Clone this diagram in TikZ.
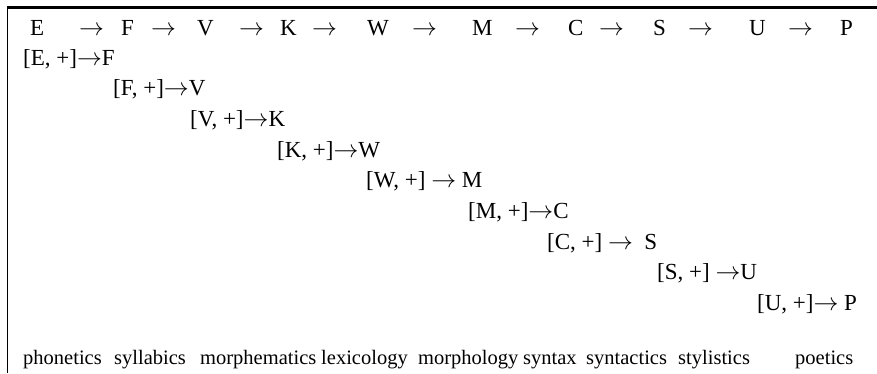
\documentclass[tikz,border=0pt]{standalone}
\usepackage{fontspec}
\setmainfont{Liberation Serif}
\usetikzlibrary{positioning}

\begin{document}
\begin{tikzpicture}[
  x=1pt, y=-1pt,
  sym/.style={anchor=base west, inner sep=0pt, font=\fontsize{23}{27}\selectfont},
  rulerow/.style={anchor=base west, inner sep=0pt, font=\fontsize{23}{27}\selectfont},
  field/.style={anchor=base west, inner sep=0pt, font=\fontsize{20.5}{24}\selectfont}
]
  \useasboundingbox (0,0) rectangle (877,373);
  % frame: top rule and left rule only
  \draw[line width=2.6pt] (7,7.5) -- (877,7.5);
  \draw[line width=1.1pt] (7.5,7.5) -- (7.5,373);

  % top chain of levels
  \foreach \x/\t [count=\i] in {30/E, 121/F, 197/V, 280/K, 367/W, 472/M, 568/C, 653/S, 749/U, 840/P}
    \node[sym] (lvl\i) at (\x,35) {\t};
  \foreach \x [count=\i] in {79, 151, 239, 312, 412, 515, 599, 688, 788}
    \node[sym] (to\i) at (\x,35) {$\rightarrow$};

  % staircase of transitions
  \foreach \x/\y/\t [count=\i] in {
      23/65/{[E, +]$\rightarrow$F},
      113/95.6/{[F, +]$\rightarrow$V},
      190/126/{[V, +]$\rightarrow$K},
      277/157/{[K, +]$\rightarrow$W},
      366/187.5/{[W, +] $\rightarrow$ M},
      468/218/{[M, +]$\rightarrow$C},
      547/249/{[C, +] $\rightarrow$\ \ S},
      657/279/{[S, +] $\rightarrow$U},
      757/310/{[U, +]$\rightarrow$ P}}
    \node[rulerow] (step\i) at (\x,\y) {\t};

  % names of the levels
  \foreach \x/\t [count=\i] in {23/phonetics, 114/syllabics, 200/morphematics, 321/lexicology,
      418/morphology, 523/syntax, 586/syntactics, 678/stylistics, 795/poetics}
    \node[field] (name\i) at (\x,364) {\t};
\end{tikzpicture}
\end{document}
